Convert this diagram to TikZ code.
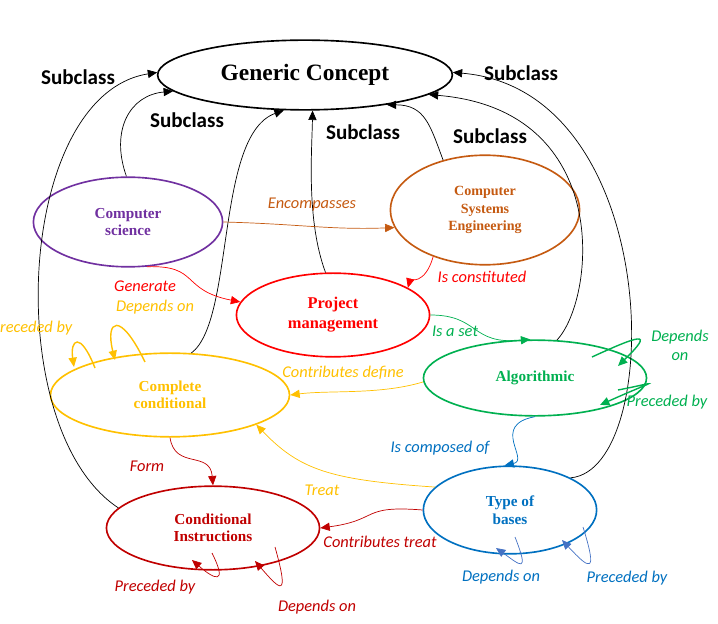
\documentclass[tikz,border=0pt]{standalone}
\usepackage{fontspec}
\setmainfont{Liberation Serif}
\newfontfamily\lab{Carlito}
\usetikzlibrary{arrows.meta}
\definecolor{cpurple}{HTML}{7030A0}
\definecolor{cbrown}{HTML}{C55A11}
\definecolor{cred}{HTML}{FF0000}
\definecolor{cyel}{HTML}{FFC000}
\definecolor{cgreen}{HTML}{00B050}
\definecolor{cdred}{HTML}{C00000}
\definecolor{cblue}{HTML}{0070C0}
\definecolor{clblue}{HTML}{4472C4}
\tikzset{
 ell/.style={draw, ellipse, line width=1.4pt, inner sep=0pt, align=center, font=\fontsize{13}{15}\selectfont\bfseries},
 conn/.style={line width=0.6pt, -{Triangle[length=8pt,width=7pt]}},
 sub/.style={font=\lab\fontsize{18}{20}\selectfont\bfseries},
 lbl/.style={font=\lab\fontsize{14}{16}\selectfont\itshape, align=center}
}
\usetikzlibrary{shapes.geometric}
\begin{document}
\begin{tikzpicture}[x=0.03cm,y=-0.03cm]
\useasboundingbox (0,0) rectangle (718,624);
\node[ell, minimum width=296\pgflinewidth*0+296*0.85pt, minimum height=70*0.85pt, font=\fontsize{20}{22}\selectfont\bfseries] (gc) at (305,75) {Generic Concept};
\node[ell, draw=cpurple, text=cpurple, minimum width=190*0.85pt, minimum height=90*0.85pt] (cs) at (128,222) {Computer\\science};
\node[ell, draw=cbrown, text=cbrown, minimum width=190*0.85pt, minimum height=110*0.85pt, font=\fontsize{12}{15}\selectfont\bfseries] (cse) at (485,210) {Computer\\Systems\\Engineering};
\node[ell, draw=cred, text=cred, minimum width=194*0.85pt, minimum height=84*0.85pt, font=\fontsize{14}{17}\selectfont\bfseries] (pm) at (333,315) {Project\\management};
\node[ell, draw=cyel, text=cyel, minimum width=240*0.85pt, minimum height=84*0.85pt] (cc) at (170,395) {Complete\\conditional};
\node[ell, draw=cgreen, text=cgreen, minimum width=224*0.85pt, minimum height=76*0.85pt] (alg) at (535,378) {Algorithmic};
\node[ell, draw=cdred, text=cdred, minimum width=214*0.85pt, minimum height=84*0.85pt] (ci) at (213,528) {Conditional\\Instructions};
\node[ell, draw=cblue, text=cblue, minimum width=174*0.85pt, minimum height=88*0.85pt] (tob) at (510,510) {Type of\\bases};

% black subclass connectors
\draw[conn] (ci.168) .. controls (0,430) and (15,95) .. (gc.179);
\draw[conn] (cs.92) .. controls (110,130) and (130,95) .. (gc.187);
\draw[conn] (cc.63) .. controls (235,320) and (215,135) .. (gc.239);
\draw[conn] (pm.100) .. controls (306,220) and (312,150) .. (gc.282);
\draw[conn] (cse.130) .. controls (430,125) and (425,105) .. (gc.340);
\draw[conn] (alg.60) .. controls (595,300) and (615,110) .. (gc.351);
\draw[conn] (tob.28) .. controls (665,470) and (665,90) .. (gc.1);
\node[sub] (s1) at (78,77) {Subclass};
\node[sub] (s2) at (187,120) {Subclass};
\node[sub] (s3) at (363,132) {Subclass};
\node[sub] (s4) at (521,73) {Subclass};
\node[sub] (s5) at (490,136) {Subclass};

% coloured relations
\draw[conn, cbrown] (cs.0) .. controls (300,224) and (330,230) .. (cse.191);
\node[lbl, text=cbrown] (l1) at (312,205) {Encompasses};
\draw[conn, cred] (cs.293) .. controls (200,265) and (180,290) .. (pm.172);
\node[lbl, text=cred] (l2) at (145,286) {Generate};
\node[lbl, text=cyel] (l3) at (155,307) {Depends on};
\draw[conn, cred] (cse.222) .. controls (425,285) and (410,280) .. (pm.20);
\node[lbl, text=cred] (l4) at (482,277) {Is constituted};
\draw[conn, cgreen] (pm.0) .. controls (480,315) and (470,345) .. (alg.97);
\node[lbl, text=cgreen] (l5) at (455,331) {Is a set};
\draw[conn, cyel] (alg.182) .. controls (380,395) and (330,390) .. (cc.0);
\node[lbl, text=cyel] (l6) at (343,373) {Contributes define};
\draw[conn, cblue] (alg.270) .. controls (490,425) and (530,460) .. (tob.97);
\node[lbl, text=cblue] (l7) at (440,448) {Is composed of};
\draw[conn, cyel] (tob.163) .. controls (330,480) and (300,470) .. (cc.341);
\node[lbl, text=cyel] (l8) at (322,490) {Treat};
\draw[conn, cdred] (cc.270) .. controls (175,470) and (210,450) .. (ci.90);
\node[lbl, text=cdred] (l9) at (147,466) {Form};
\draw[conn, cdred] (tob.180) .. controls (360,505) and (380,520) .. (ci.0);
\node[lbl, text=cdred] (l10) at (380,542) {Contributes treat};

% self loops
\coordinate (c1a) at (95,368); \coordinate (c1b) at (74,367);
\draw[conn, cyel, line width=1.2pt] (c1a) .. controls (80,330) and (70,340) .. (c1b);
\coordinate (c2a) at (145,362); \coordinate (c2b) at (115,360);
\draw[conn, cyel, line width=1.2pt] (c2a) .. controls (120,310) and (105,320) .. (c2b);
\node[lbl, text=cyel, anchor=west] (l11) at (-4,328) {receded by};

\coordinate (a1a) at (592,357); \coordinate (a1b) at (618,366);
\draw[conn, cgreen, line width=1.2pt] (a1a) .. controls (640,335) and (655,330) .. (a1b);
\node[lbl, text=cgreen] (l12) at (680,345) {Depends\\on};
\coordinate (a2a) at (618,390); \coordinate (a2b) at (600,405);
\draw[conn, cgreen, line width=1.2pt] (a2a) .. controls (660,382) and (660,378) .. (a2b);
\node[lbl, text=cgreen] (l13) at (667,402) {Preceded by};

\coordinate (i1a) at (212,553); \coordinate (i1b) at (192,560);
\draw[conn, cdred] (i1a) .. controls (228,585) and (215,580) .. (i1b);
\node[lbl, text=cdred] (l14) at (155,587) {Preceded by};
\coordinate (i2a) at (275,547); \coordinate (i2b) at (255,561);
\draw[conn, cdred] (i2a) .. controls (290,600) and (280,590) .. (i2b);
\node[lbl, text=cdred] (l15) at (317,607) {Depends on};

\coordinate (t1a) at (515,537); \coordinate (t1b) at (496,548);
\draw[conn, clblue] (t1a) .. controls (530,575) and (520,565) .. (t1b);
\node[lbl, text=cblue] (l16) at (501,577) {Depends on};
\coordinate (t2a) at (583,527); \coordinate (t2b) at (562,540);
\draw[conn, clblue] (t2a) .. controls (598,575) and (590,570) .. (t2b);
\node[lbl, text=cblue] (l17) at (627,578) {Preceded by};
\end{tikzpicture}
\end{document}
